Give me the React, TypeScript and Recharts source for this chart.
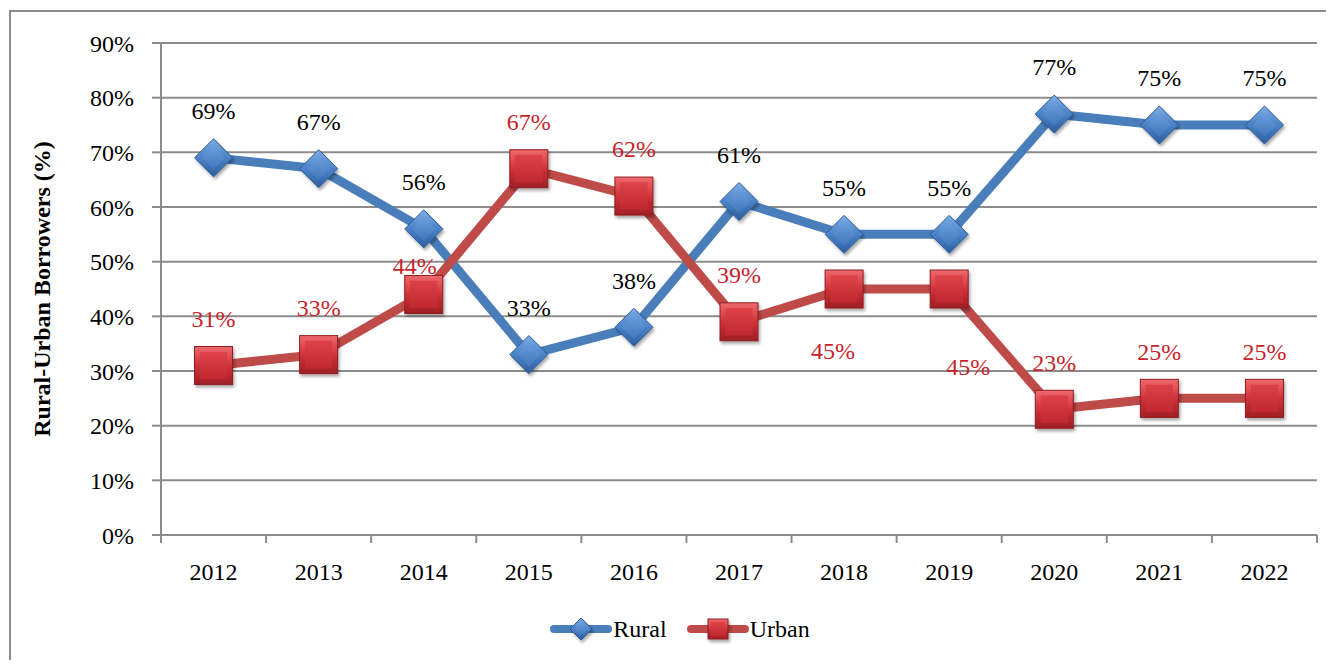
import { LineChart, Line, XAxis, YAxis, CartesianGrid, Legend, LabelList } from 'recharts';

const years = ['2012', '2013', '2014', '2015', '2016', '2017', '2018', '2019', '2020', '2021', '2022'];
const rural = [69, 67, 56, 33, 38, 61, 55, 55, 77, 75, 75];
const urban = [31, 33, 44, 67, 62, 39, 45, 45, 23, 25, 25];
const yTicks = [0, 10, 20, 30, 40, 50, 60, 70, 80, 90];

const W = 1334;
const H = 668;
const MARGIN = { top: 43, right: 17, bottom: 33, left: 0 };
const Y_AXIS_W = 161;
const PLOT_W = W - MARGIN.left - MARGIN.right - Y_AXIS_W;
const HALF_BAND = PLOT_W / years.length / 2;

const FONT = '"Liberation Serif", "Times New Roman", serif';
const BLUE = '#4A7EBB';
const RED = '#BE4B48';
const LABEL_RED = '#C8242C';
const GRAY = '#8C8C8C';

// labels sit above the point, except a few that were dragged by hand in the original
const LABEL_DY = -47;
const ruralShift: Record<number, [number, number]> = {};
const urbanShift: Record<number, [number, number]> = { 2: [-9, -29], 6: [-11, 62], 7: [19, 78] };

const data = years.map((year, i) => ({ idx: i, year, rural: rural[i], urban: urban[i] }));
const xTicks = [...years.map((_, i) => i - 0.5), years.length - 0.5];

function Diamond({ cx, cy, r }: { cx: number; cy: number; r: number }) {
  const pts = `${cx},${cy - r} ${cx + r},${cy} ${cx},${cy + r} ${cx - r},${cy}`;
  const k = r * 0.62;
  const inner = `${cx},${cy - k} ${cx + k},${cy} ${cx},${cy + k} ${cx - k},${cy}`;
  return (
    <g filter="url(#shadow)">
      <polygon points={pts} fill="url(#gBlue)" stroke="#2C5A94" strokeWidth={1} />
      <polygon points={inner} fill="url(#gBlueIn)" />
    </g>
  );
}

function Square({ cx, cy, r }: { cx: number; cy: number; r: number }) {
  const k = r * 0.72;
  return (
    <g filter="url(#shadow)">
      <rect x={cx - r} y={cy - r} width={r * 2} height={r * 2} fill="url(#gRed)" stroke="#8E1E22" strokeWidth={1} />
      <rect x={cx - k} y={cy - k} width={k * 2} height={k * 2} fill="url(#gRedIn)" />
    </g>
  );
}

const renderDiamond = (p: any) => <Diamond key={`dm-${p.index}`} cx={p.cx} cy={p.cy} r={19} />;
const renderSquare = (p: any) => <Square key={`sq-${p.index}`} cx={p.cx} cy={p.cy} r={19} />;

const makeLabel = (color: string, shift: Record<number, [number, number]>) => (p: any) => {
  const x = p.x ?? p.viewBox?.x;
  const y = p.y ?? p.viewBox?.y;
  const [dx, dy] = shift[p.index] ?? [0, LABEL_DY];
  return (
    <text x={x + dx} y={y + dy} dy="0.35em" textAnchor="middle" fill={color} fontSize={24} fontFamily={FONT}>
      {`${p.value}%`}
    </text>
  );
};

const XTick = (p: any) => {
  const i = p.payload.value + 0.5;
  if (i >= years.length) return <g />;
  return (
    <text x={p.x + HALF_BAND} y={p.y + 35} textAnchor="middle" fill="#000" fontSize={24} fontFamily={FONT}>
      {years[i]}
    </text>
  );
};

const YTitle = (p: any) => {
  const vb = p.viewBox ?? { y: MARGIN.top, height: H - MARGIN.top - 133 };
  const cy = vb.y + vb.height / 2;
  return (
    <text
      x={42}
      y={cy}
      transform={`rotate(-90, 42, ${cy})`}
      dy="0.35em"
      textAnchor="middle"
      fontSize={24}
      fontWeight="bold"
      fontFamily={FONT}
      fill="#000"
    >
      Rural-Urban Borrowers (%)
    </text>
  );
};

const LegendContent = () => (
  <div
    style={{
      display: 'flex',
      justifyContent: 'center',
      alignItems: 'center',
      height: 40,
      paddingLeft: 26,
      fontFamily: FONT,
      fontSize: 24,
      color: '#000',
    }}
  >
    <svg width={62} height={40} style={{ overflow: 'visible' }}>
      <line x1={4} x2={58} y1={20} y2={20} stroke={BLUE} strokeWidth={8} strokeLinecap="round" />
      <Diamond cx={31} cy={20} r={11} />
    </svg>
    <span style={{ marginLeft: 1, marginRight: 20 }}>Rural</span>
    <svg width={62} height={40} style={{ overflow: 'visible' }}>
      <line x1={4} x2={58} y1={20} y2={20} stroke={RED} strokeWidth={8} strokeLinecap="round" />
      <Square cx={31} cy={20} r={10} />
    </svg>
    <span style={{ marginLeft: 1 }}>Urban</span>
  </div>
);

export default function App() {
  return (
    <div style={{ position: 'relative', width: W, height: H, margin: -8, overflow: 'hidden', background: '#fff' }}>
      <div
        style={{
          position: 'absolute',
          left: 9,
          top: 10,
          width: W + 40,
          height: H + 40,
          border: `2px solid ${GRAY}`,
        }}
      />
      <div style={{ position: 'absolute', left: 0, top: 0 }}>
        <LineChart width={W} height={H} data={data} margin={MARGIN}>
          <defs>
            <linearGradient id="gBlue" x1="0" y1="0" x2="0" y2="1">
              <stop offset="0" stopColor="#7FAEE6" />
              <stop offset="0.5" stopColor="#4A82C8" />
              <stop offset="1" stopColor="#2D5E9F" />
            </linearGradient>
            <linearGradient id="gBlueIn" x1="0" y1="0" x2="0" y2="1">
              <stop offset="0" stopColor="#6A9EDC" />
              <stop offset="1" stopColor="#3F76BD" />
            </linearGradient>
            <linearGradient id="gRed" x1="0" y1="0" x2="0" y2="1">
              <stop offset="0" stopColor="#EE6A6E" />
              <stop offset="0.5" stopColor="#D0323A" />
              <stop offset="1" stopColor="#9E1E24" />
            </linearGradient>
            <linearGradient id="gRedIn" x1="0" y1="0" x2="0" y2="1">
              <stop offset="0" stopColor="#DE4248" />
              <stop offset="1" stopColor="#C0282F" />
            </linearGradient>
            <filter id="shadow" x="-30%" y="-30%" width="160%" height="160%">
              <feDropShadow dx="1.5" dy="2.5" stdDeviation="1.5" floodColor="#000" floodOpacity="0.35" />
            </filter>
          </defs>
          <CartesianGrid vertical={false} stroke={GRAY} strokeWidth={2} />
          <XAxis
            type="number"
            dataKey="idx"
            domain={[-0.5, years.length - 0.5]}
            ticks={xTicks}
            interval={0}
            height={60}
            tickSize={8}
            axisLine={{ stroke: GRAY, strokeWidth: 2 }}
            tickLine={{ stroke: GRAY, strokeWidth: 2 }}
            tick={XTick}
          />
          <YAxis
            width={Y_AXIS_W}
            domain={[0, 90]}
            ticks={yTicks}
            interval={0}
            tickSize={9}
            tickMargin={18}
            tickFormatter={(v: number) => `${v}%`}
            axisLine={{ stroke: GRAY, strokeWidth: 2 }}
            tickLine={{ stroke: GRAY, strokeWidth: 2 }}
            tick={{ fill: '#000', fontSize: 24, fontFamily: FONT }}
            label={YTitle}
          />
          <Legend verticalAlign="bottom" height={40} wrapperStyle={{ bottom: 19, left: 0, width: W }} content={LegendContent} />
          <Line
            dataKey="rural"
            name="Rural"
            stroke={BLUE}
            strokeWidth={9}
            strokeLinejoin="round"
            dot={renderDiamond}
            activeDot={false}
            isAnimationActive={false}
          >
            <LabelList dataKey="rural" content={makeLabel('#000', ruralShift)} />
          </Line>
          <Line
            dataKey="urban"
            name="Urban"
            stroke={RED}
            strokeWidth={9}
            strokeLinejoin="round"
            dot={renderSquare}
            activeDot={false}
            isAnimationActive={false}
          >
            <LabelList dataKey="urban" content={makeLabel(LABEL_RED, urbanShift)} />
          </Line>
        </LineChart>
      </div>
    </div>
  );
}
